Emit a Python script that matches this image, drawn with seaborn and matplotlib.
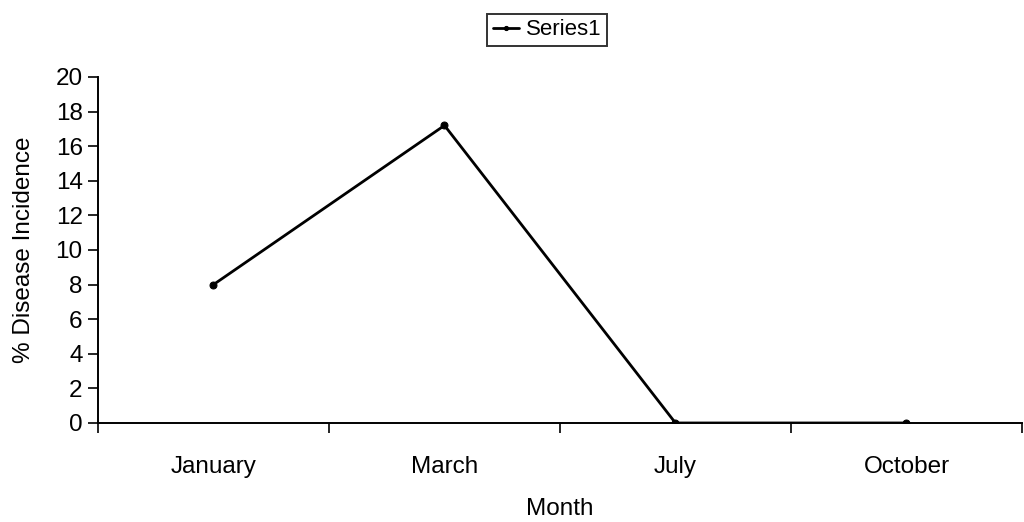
import matplotlib
matplotlib.use("Agg")
import matplotlib.pyplot as plt
import seaborn as sns
import pandas as pd

months = ["January", "March", "July", "October"]
incidence = [8.0, 17.2, 0.0, 0.0]
series_name = "Series1"

sns.set_style("white")
plt.rcParams["font.family"] = ["Liberation Sans", "DejaVu Sans"]
plt.rcParams["text.color"] = "black"
plt.rcParams["axes.labelcolor"] = "black"
plt.rcParams["xtick.color"] = "black"
plt.rcParams["ytick.color"] = "black"

df = pd.DataFrame({"Month": months, "Incidence": incidence, "Series": series_name})

fig = plt.figure(figsize=(10.24, 5.22), dpi=100)
ax = fig.add_axes([0.0957, 0.1897, 0.9023, 0.6628])

sns.lineplot(data=df, x="Month", y="Incidence", hue="Series", palette=["black"],
             marker="o", markersize=5, linewidth=2.0, sort=False, ax=ax,
             markeredgecolor="black")

ax.set_xlim(-0.5, 3.5)
ax.set_ylim(0, 20)
ax.set_yticks(range(0, 21, 2))
ax.set_xticks([0, 1, 2, 3])
ax.set_xticklabels(months)
ax.set_xticks([-0.5, 0.5, 1.5, 2.5, 3.5], minor=True)
ax.tick_params(axis="x", which="major", length=0, pad=24, labelsize=17.5)
ax.tick_params(axis="x", which="minor", length=7, width=1.2, direction="out", bottom=True)
ax.tick_params(axis="y", length=7, width=1.2, direction="out", left=True, labelsize=17.5, pad=4)

for side in ["top", "right"]:
    ax.spines[side].set_visible(False)
for side in ["left", "bottom"]:
    ax.spines[side].set_color("black")
    ax.spines[side].set_linewidth(1.4)

ax.set_xlabel("Month", fontsize=17.5, labelpad=14)
ax.set_ylabel("% Disease Incidence", fontsize=17.5, labelpad=15)

handles, labels = ax.get_legend_handles_labels()
leg = ax.legend(handles, labels, loc="center", bbox_to_anchor=(0.486, 1.136),
                frameon=True, fancybox=False, fontsize=16, handlelength=1.2,
                handletextpad=0.3, borderpad=0.25, markerscale=0.6)
leg.get_frame().set_edgecolor("black")
leg.get_frame().set_linewidth(1.4)

fig.savefig("out.png", dpi=100, facecolor="white")
